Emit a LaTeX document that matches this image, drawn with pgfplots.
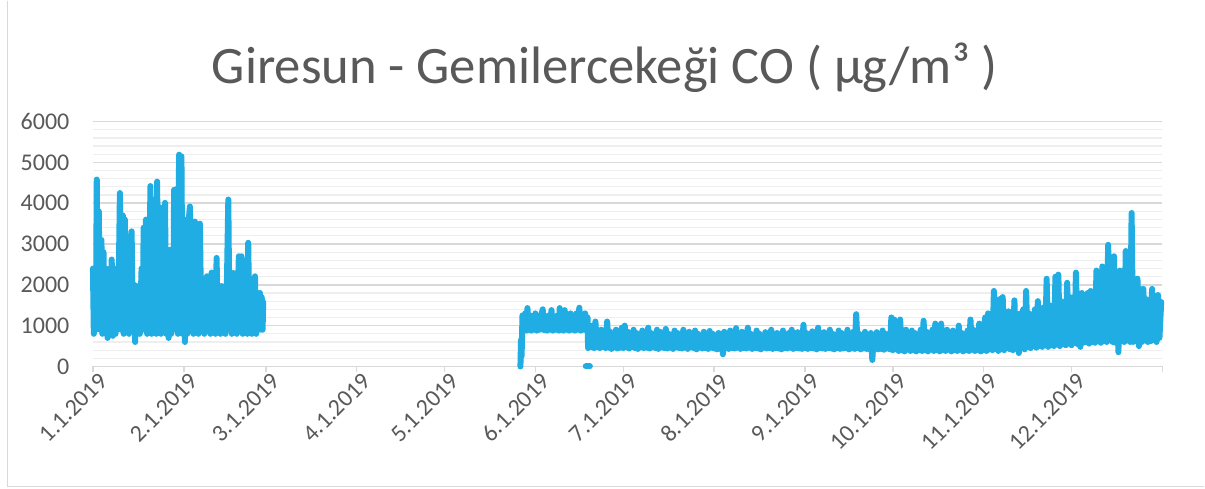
\documentclass[border=0pt]{standalone}
\usepackage{fontspec}
\setmainfont{Carlito}
\usepackage{pgfplots}
\pgfplotsset{compat=1.18}
\definecolor{txtgray}{HTML}{595959}
\definecolor{gridmaj}{HTML}{D9D9D9}
\definecolor{gridmin}{HTML}{EEEEEE}
\definecolor{coblue}{HTML}{1FADE3}
\begin{document}
\begin{tikzpicture}
% page frame (1 px = 0.75pt, axis box lower-left at origin)
\fill[white] (-69.75pt,-91.5pt) rectangle (834pt,274.5pt);
\draw[gridmaj, line width=1pt] (-64pt,274.5pt) -- (-64pt,-90pt) -- (834pt,-90pt);
\node[anchor=base, text=txtgray, font=\fontsize{39.5}{44}\selectfont] at (384pt,212.25pt)
  {Giresun - Gemilercekeği CO ( µg/m³ )};
\begin{axis}[
    at={(0pt,0pt)}, anchor=south west,
    scale only axis,
    width=802.5pt, height=183.75pt,
    xmin=0, xmax=365, ymin=0, ymax=6000,
    clip=false,
    separate axis lines,
    x axis line style={draw=gridmaj, line width=1.1pt},
    y axis line style={draw=none},
    xtick={0,31,59,90,120,151,181,212,243,273,304,334,365},
    xticklabels={1.1.2019,2.1.2019,3.1.2019,4.1.2019,5.1.2019,6.1.2019,7.1.2019,8.1.2019,9.1.2019,10.1.2019,11.1.2019,12.1.2019,},
    xtick pos=bottom,
    tick align=outside,
    major tick length=4.5pt,
    xtick style={draw=gridmaj, line width=1.1pt},
    ytick={0,1000,...,6000},
    minor y tick num=4,
    ytick style={draw=none},
    minor tick style={draw=none},
    ymajorgrids, yminorgrids,
    major grid style={draw=gridmaj, line width=1.1pt},
    minor grid style={draw=gridmin, line width=0.9pt},
    /pgf/number format/assume math mode=true,
    /pgf/number format/1000 sep={},
    tick label style={text=txtgray, font=\fontsize{18}{21}\selectfont},
    yticklabel style={anchor=east, inner sep=0pt, xshift=-13pt},
    xticklabel style={rotate=45, anchor=north east, inner sep=0pt, xshift=3pt, yshift=-2pt},
]
% January - February
\addplot[coblue, line width=4.5pt, line join=round, line cap=round] coordinates {
(0,2400)(0.3,800)(0.6,2000)(1,900)(1.3,4580)(1.6,1000)(2,3800)(2.4,900)(2.9,3100)(3.2,800)(3.6,2800)(4,900)
(4.5,2400)(5,700)(5.5,2300)(6,800)(6.4,2620)(6.8,750)(7.3,2400)(7.7,800)(8.2,2200)(8.6,1000)(9.2,4250)(9.6,900)
(10.2,3700)(10.5,800)(10.9,3600)(11.3,900)(11.8,3000)(12.3,800)(12.8,2800)(13.2,3310)(13.6,900)(14.1,2000)
(14.4,600)(14.9,1970)(15.2,900)(15.6,1500)(16,800)(16.6,2400)(17,900)(17.3,3400)(17.7,1000)(18.1,3600)(18.5,800)
(18.9,2500)(19.2,900)(19.6,4420)(20,800)(20.5,3800)(20.9,900)(21.3,4100)(21.6,800)(21.9,4530)(22.3,900)(22.8,3900)
(23.2,800)(23.7,3700)(24.1,900)(24.6,4010)(25,800)(25.5,2500)(25.8,700)(26.3,2860)(26.7,800)(27.1,2000)(27.4,900)
(27.7,4330)(28.1,1000)(28.6,4350)(29,800)(29.4,5190)(29.8,900)(30.2,5150)(30.6,800)(31,2300)(31.4,600)(31.8,3600)
(32.2,800)(32.6,3500)(33.1,3920)(33.5,900)(33.9,3400)(34.3,800)(34.8,3550)(35.2,900)(35.6,3400)(36,800)(36.5,3500)
(37,900)(37.5,1800)(38,800)(38.5,2000)(38.9,2210)(39.3,900)(39.7,2000)(40.1,800)(40.5,2300)(41,900)(41.5,1700)
(41.8,800)(42.2,2660)(42.6,900)(43.1,1800)(43.5,800)(43.9,1970)(44.3,900)(44.8,1600)(45.2,800)(45.6,1500)
(46.2,4090)(46.6,900)(47,1800)(47.4,800)(47.9,2290)(48.3,900)(48.7,1700)(49.1,800)(49.8,2700)(50.2,900)(50.7,2700)
(51.1,800)(51.5,2000)(51.9,900)(52.4,2600)(52.7,800)(53,3030)(53.4,900)(53.8,2000)(54.2,800)(54.6,1800)(55,900)
(55.3,2210)(55.7,800)(56.2,1700)(56.6,900)(57,1800)(57.3,900)(57.6,1700)(57.9,900)(58.1,1580)
};
% end of May - December
\addplot[coblue, line width=4.5pt, line join=round, line cap=round] coordinates {
(145.9,0)(146.1,650)(146.3,250)(146.6,1250)(147,900)(147.5,1300)(148,880)(148.3,1430)(148.7,900)(149.2,1250)
(149.6,880)(150,1150)(150.5,900)(151,1300)(151.5,880)(152,1200)(152.5,900)(153,1250)(153.5,1400)(154,890)
(154.5,1200)(155,880)(155.5,1250)(156,900)(156.5,1380)(157,880)(157.5,1150)(158,900)(158.5,1250)(159,880)
(159.3,1430)(159.7,900)(160.2,1200)(160.6,880)(161,1380)(161.5,900)(162,1150)(162.5,880)(163,1300)(163.5,900)
(164,1200)(164.5,880)(165,1300)(165.5,900)(166,1440)(166.5,880)(167,1250)(167.5,900)(168,1300)(168.5,880)
(168.8,1200)(169,450)(169.5,900)
(170,480)(170.5,1000)(171,450)(171.5,1100)(172,470)(172.5,850)(173,450)(173.5,900)(174,480)(174.5,800)
(175,450)(175.5,1100)(176,460)(176.5,850)(177,430)(177.5,800)(178,470)(178.5,900)(179,440)(179.5,780)
(180,460)(180.5,950)(181,450)(181.5,1000)(182,470)(182.5,850)(183,440)(183.5,760)(184,480)(184.5,900)
(185,450)(185.5,820)(186,430)(186.5,760)(187,470)(187.5,880)(188,450)(188.5,800)(189,460)(189.5,950)
(190,440)(190.5,820)(191,470)(191.5,760)(192,450)(192.5,900)(193,430)(193.5,850)(194,470)(194.5,780)
(195,450)(195.5,920)(196,440)(196.5,800)(197,460)(197.5,750)(198,430)(198.5,880)(199,470)(199.5,820)
(200,450)(200.5,760)(201,440)(201.5,900)(202,460)(202.5,800)(203,430)(203.5,850)(204,470)(204.5,760)
(205,450)(205.5,880)(206,420)(206.5,800)(207,460)(207.5,750)(208,440)(208.5,850)(209,450)(209.5,780)
(210,430)(210.5,870)(211,460)(211.5,800)
(212,440)(212.5,760)(213,420)(213.5,820)(214,430)(214.5,800)(215,300)(215.5,850)(216,450)(216.5,760)
(217,430)(217.5,880)(218,450)(218.5,820)(219,440)(219.5,940)(220,460)(220.5,780)(221,430)(221.5,850)
(222,450)(222.5,760)(223,440)(223.5,950)(224,460)(224.5,800)(225,430)(225.5,760)(226,450)(226.5,880)
(227,440)(227.5,800)(228,420)(228.5,750)(229,460)(229.5,840)(230,440)(230.5,780)(231,450)(231.5,900)
(232,430)(232.5,760)(233,450)(233.5,820)(234,440)(234.5,780)(235,420)(235.5,880)(236,450)(236.5,760)
(237,440)(237.5,820)(238,460)(238.5,900)(239,430)(239.5,780)(240,450)(240.5,840)(241,440)(241.5,800)
(242,430)(242.5,1020)
(243,450)(243.5,820)(244,430)(244.5,760)(245,450)(245.5,860)(246,440)(246.5,800)(247,420)(247.5,950)
(248,450)(248.5,780)(249,440)(249.5,840)(250,430)(250.5,760)(251,450)(251.5,900)(252,440)(252.5,800)
(253,420)(253.5,760)(254,450)(254.5,880)(255,430)(255.5,820)(256,440)(256.5,760)(257,450)(257.5,900)
(258,420)(258.5,800)(259,440)(259.5,850)(260,430)(260.5,1280)(261,450)(261.5,800)(262,420)(262.5,760)
(263,440)(263.5,850)(264,430)(264.5,780)(265,420)(265.5,820)(266,160)(266.5,760)(267,440)(267.5,840)
(268,420)(268.5,780)(269,430)(269.5,880)(270,410)(270.5,800)(271,440)(271.5,760)(272,420)(272.5,1200)
(273,400)(273.5,1150)(274,420)(274.5,900)(275,380)(275.5,1150)(276,400)(276.5,850)(277,370)(277.5,900)
(278,410)(278.5,800)(279,380)(279.5,880)(280,400)(280.5,820)(281,370)(281.5,760)(282,400)(282.5,900)
(283,380)(283.5,1120)(284,400)(284.5,850)(285,370)(285.5,800)(286,410)(286.5,900)(287,380)(287.5,1050)
(288,400)(288.5,980)(289,370)(289.5,1050)(290,400)(290.5,850)(291,380)(291.5,900)(292,410)(292.5,800)
(293,370)(293.5,880)(294,400)(294.5,820)(295,380)(295.5,1000)(296,410)(296.5,820)(297,370)(297.5,760)
(298,400)(298.5,880)(299,380)(299.5,1150)(300,410)(300.5,900)(301,380)(301.5,850)(302,400)(302.5,1050)
(303,370)(303.5,880)
(304,400)(304.5,1200)(305,380)(305.5,1300)(306,420)(306.5,1100)(307,400)(307.5,1850)(308,430)(308.5,1300)
(309,380)(309.5,1650)(310,420)(310.5,1700)(311,400)(311.5,1200)(312,450)(312.5,1350)(313,420)(313.5,1250)
(314,400)(314.5,1620)(315,450)(315.5,1200)(316,330)(316.5,1300)(317,450)(317.5,1400)(318,420)(318.5,1850)
(319,480)(319.5,1300)(320,450)(320.5,1250)(321,500)(321.5,1400)(322,460)(322.5,1600)(323,500)(323.5,1300)
(324,480)(324.5,1450)(325,520)(325.5,2150)(326,480)(326.5,1500)(327,520)(327.5,1400)(328,500)(328.5,2200)
(329,540)(329.5,2250)(330,500)(330.5,1600)(331,550)(331.5,1500)(332,520)(332.5,2050)(333,560)(333.5,1700)
(334,520)(334.5,1500)(335,580)(335.5,2300)(336,550)(336.5,1600)(337,480)(337.5,1800)(338,580)(338.5,1500)
(339,600)(339.5,1800)(340,560)(340.5,1850)(341,600)(341.5,1500)(342,580)(342.5,2350)(343,620)(343.5,1700)
(344,580)(344.5,2450)(345,620)(345.5,1800)(346,600)(346.5,2980)(347,640)(347.5,2000)(348,600)(348.5,2700)
(349,580)(349.5,1800)(350,350)(350.5,2350)(351,620)(351.5,1700)(352,600)(352.5,2830)(353,640)(353.5,1900)
(354,600)(354.5,3760)(355,600)(355.5,2100)(356,620)(356.5,2150)(357,500)(357.5,1900)(358,600)(358.5,1900)
(359,640)(359.5,1650)(360,600)(360.5,1500)(361,620)(361.5,1900)(362,650)(362.5,1600)(363,600)(363.5,1750)
(364,700)(364.6,1580)
};
% short run of zero readings in June
\addplot[coblue, line width=4.5pt, line cap=round] coordinates {(168.2,0)(169.6,0)};
\end{axis}
\end{tikzpicture}
\end{document}
